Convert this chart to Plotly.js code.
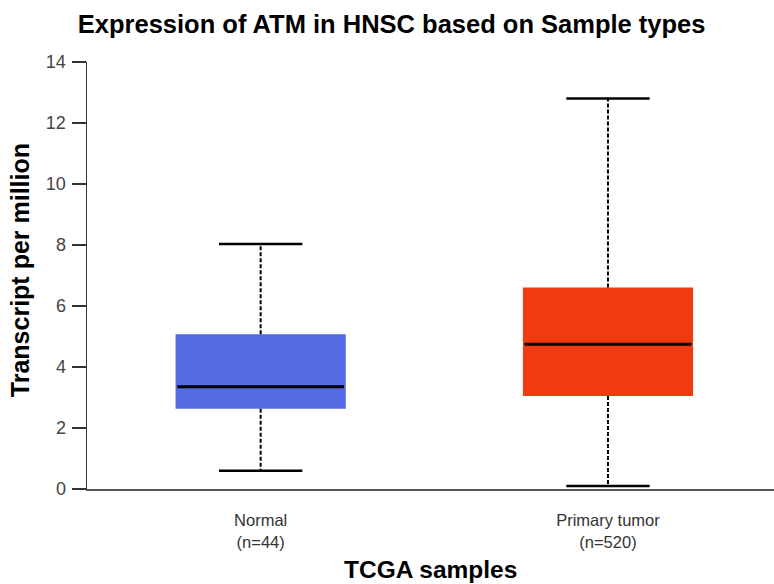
<!DOCTYPE html>
<html>
<head>
<meta charset="utf-8">
<script src="https://cdn.plot.ly/plotly-3.0.1.min.js"></script>
<style>
  html, body { margin: 0; padding: 0; background: #fff; }
  #chart { width: 774px; height: 584px; }
</style>
</head>
<body>
<div id="chart"></div>
<script>
// Summary statistics of ATM expression (transcripts per million) per sample type
const groups = ['Normal', 'Primary tumor'];
const sampleCounts = [44, 520];
const minimum = [0.60, 0.10];
const q1 = [2.63, 3.05];
const median = [3.35, 4.75];
const q3 = [5.07, 6.61];
const maximum = [8.03, 12.80];
const fillColors = ['#5569E2', '#F13A10'];

const BOX_HALF = 0.245;
const CAP_HALF = 0.12;

const traces = [];
groups.forEach((g, i) => {
  const x = i;
  // box body (interquartile range)
  traces.push({
    type: 'scatter', mode: 'lines', fill: 'toself',
    x: [x - BOX_HALF, x + BOX_HALF, x + BOX_HALF, x - BOX_HALF, x - BOX_HALF],
    y: [q1[i], q1[i], q3[i], q3[i], q1[i]],
    fillcolor: fillColors[i], line: { width: 0, color: fillColors[i] },
    hoverinfo: 'skip', showlegend: false
  });
  // dashed whiskers
  traces.push({
    type: 'scatter', mode: 'lines',
    x: [x, x, null, x, x],
    y: [q3[i], maximum[i], null, q1[i], minimum[i]],
    line: { color: '#000', width: 2, dash: '4px,2px' },
    hoverinfo: 'skip', showlegend: false
  });
  // whisker caps
  traces.push({
    type: 'scatter', mode: 'lines',
    x: [x - CAP_HALF, x + CAP_HALF, null, x - CAP_HALF, x + CAP_HALF],
    y: [maximum[i], maximum[i], null, minimum[i], minimum[i]],
    line: { color: '#000', width: 2.5 },
    hoverinfo: 'skip', showlegend: false
  });
  // median
  traces.push({
    type: 'scatter', mode: 'lines',
    x: [x - BOX_HALF + 0.005, x + BOX_HALF - 0.005],
    y: [median[i], median[i]],
    line: { color: '#000', width: 3 },
    hoverinfo: 'skip', showlegend: false
  });
});

const tickText = groups.map((g, i) => g + '<br>(n=' + sampleCounts[i] + ')');

const layout = {
  width: 774, height: 584,
  paper_bgcolor: '#fff', plot_bgcolor: '#fff',
  margin: { l: 87, r: 0, t: 62, b: 95 },
  font: { family: 'Liberation Sans, Arial, sans-serif', color: '#000' },
  title: {
    text: '<b>Expression of ATM in HNSC based on Sample types</b>',
    font: { size: 25.5, color: '#000' },
    x: 0.506, xanchor: 'center', y: 0.958, yanchor: 'middle'
  },
  xaxis: {
    range: [-0.5, 1.478],
    tickvals: groups.map((g, i) => i),
    ticktext: tickText,
    ticks: '', showgrid: false, zeroline: false,
    showline: true, linecolor: '#555', linewidth: 1.5,
    tickfont: { size: 16.5, color: '#333' },
    ticklabelstandoff: 16
  },
  yaxis: {
    range: [0, 14], dtick: 2,
    ticks: 'outside', ticklen: 14, tickwidth: 1.5, tickcolor: '#333',
    showline: true, linecolor: '#333', linewidth: 1.5,
    showgrid: false, zeroline: false,
    tickfont: { size: 18, color: '#444' },
    ticklabelstandoff: 2
  },
  annotations: [
    {
      text: '<b>TCGA samples</b>', xref: 'paper', yref: 'paper',
      x: 0.5, y: -0.188, xanchor: 'center', yanchor: 'middle',
      showarrow: false, font: { size: 24.5, color: '#000' }
    },
    {
      text: '<b>Transcript per million</b>', xref: 'paper', yref: 'paper',
      x: -0.0975, y: 0.5125, xanchor: 'center', yanchor: 'middle', textangle: -90,
      showarrow: false, font: { size: 25, color: '#000' }
    }
  ]
};

Plotly.newPlot('chart', traces, layout, { displayModeBar: false, staticPlot: true });
</script>
</body>
</html>
